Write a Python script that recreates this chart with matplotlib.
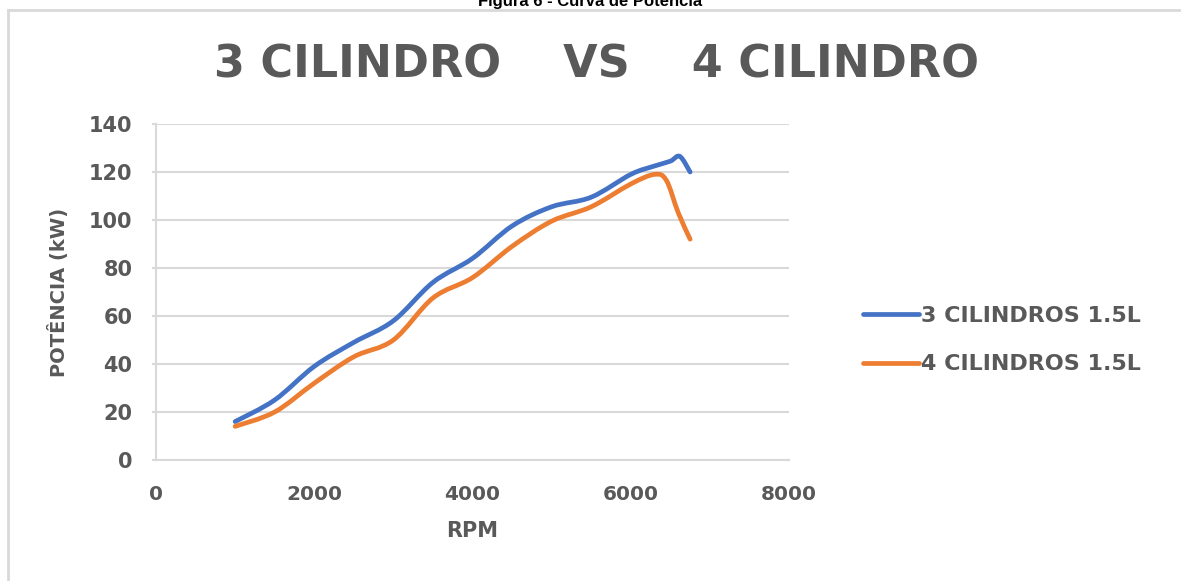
import matplotlib
matplotlib.use("agg")
import matplotlib.pyplot as plt
from matplotlib.path import Path
from matplotlib.patches import PathPatch
from matplotlib.lines import Line2D

# data
rpm_3cil = [1000, 1500, 2000, 2500, 3000, 3500, 4000, 4500, 5000, 5500, 6000, 6300, 6500, 6620, 6750]
pot_3cil = [16, 25, 39, 49, 58, 74, 84, 97.5, 105.5, 109.5, 119, 122.5, 124.5, 126.5, 120]
rpm_4cil = [1000, 1500, 2000, 2500, 3000, 3500, 4000, 4500, 5000, 5500, 6000, 6300, 6450, 6600, 6750]
pot_4cil = [14, 20, 32, 43, 50, 67.5, 76, 89, 99.5, 105.5, 115, 119, 116.5, 103, 92]
labels = ['3 CILINDROS 1.5L', '4 CILINDROS 1.5L']
colors = ['#4472C4', '#ED7D31']
x_ticks = [0, 2000, 4000, 6000, 8000]
y_ticks = [0, 20, 40, 60, 80, 100, 120, 140]

gray = '#595959'
grid = '#d9d9d9'
plt.rcParams['font.family'] = ['DejaVu Sans']
plt.rcParams['font.weight'] = 'bold'


def smooth(x, y):
    # excel-like smoothed line: catmull-rom segments as bezier curves
    pts = list(zip(x, y))
    n = len(pts)
    verts = [pts[0]]
    codes = [Path.MOVETO]
    for i in range(n - 1):
        p0 = pts[i - 1] if i > 0 else pts[i]
        p1 = pts[i]
        p2 = pts[i + 1]
        p3 = pts[i + 2] if i + 2 < n else pts[i + 1]
        c1 = (p1[0] + (p2[0] - p0[0]) / 6, p1[1] + (p2[1] - p0[1]) / 6)
        c2 = (p2[0] - (p3[0] - p1[0]) / 6, p2[1] - (p3[1] - p1[1]) / 6)
        verts += [c1, c2, p2]
        codes += [Path.CURVE4] * 3
    return Path(verts, codes)


fig = plt.figure(figsize=(11.81, 5.81), dpi=100)
ax = fig.add_axes([0.1321, 0.2083, 0.536, 0.5783])

for xs, ys, c in [(rpm_3cil, pot_3cil, colors[0]), (rpm_4cil, pot_4cil, colors[1])]:
    ax.add_patch(PathPatch(smooth(xs, ys), fill=False, edgecolor=c, lw=3.4,
                           capstyle='round', joinstyle='round', zorder=3))

ax.set_xlim(0, 8000)
ax.set_ylim(0, 140)
ax.set_xticks(x_ticks)
ax.set_yticks(y_ticks)
ax.grid(axis='y', color=grid, lw=1.5)
ax.set_axisbelow(True)
for s in ['top', 'right']:
    ax.spines[s].set_visible(False)
for s in ['left', 'bottom']:
    ax.spines[s].set_color(grid)
    ax.spines[s].set_linewidth(1.5)
ax.tick_params(axis='y', colors=grid, length=3, width=1.5, pad=14, labelsize=15, labelcolor=gray)
ax.tick_params(axis='x', length=0, pad=18, labelsize=14.5, labelcolor=gray)

ax.set_xlabel('RPM', fontsize=15, color=gray, fontweight='bold', labelpad=12)
ax.set_ylabel('POTÊNCIA (kW)', fontsize=14, color=gray, fontweight='bold', labelpad=14)

fig.text(0.505, 0.888, '3 CILINDRO    VS    4 CILINDRO', ha='center', va='center',
         fontsize=32, color=gray, fontweight='bold')

handles = [Line2D([], [], color=c, lw=3.4, solid_capstyle='round') for c in colors]
fig.legend(handles, labels, loc='center left', bbox_to_anchor=(0.7307, 0.4148),
           frameon=False, fontsize=16, handlelength=2.5, handletextpad=0.1,
           labelspacing=1.3, borderpad=0, borderaxespad=0, labelcolor=gray)

# frame of the chart area (top and left only) and the cut caption above it
x0 = 8 / 1181
y0 = 1 - 10 / 581
fig.add_artist(Line2D([x0, 1.0], [y0, y0], transform=fig.transFigure, color=grid, lw=2))
fig.add_artist(Line2D([x0, x0], [0.0, y0], transform=fig.transFigure, color=grid, lw=2))
fig.text(0.5, 1 - 6 / 581, 'Figura 6 - Curva de Potência', ha='center', va='baseline',
         fontsize=12, color='black', fontweight='bold', family='Liberation Sans')

plt.savefig('out.png', dpi=100)
plt.close()
